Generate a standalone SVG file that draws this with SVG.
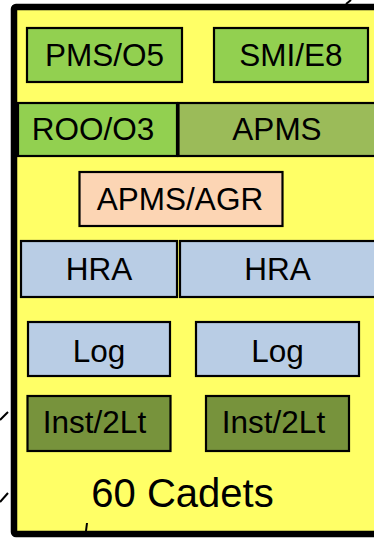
<svg xmlns="http://www.w3.org/2000/svg" width="374" height="538" viewBox="0 0 374 538">
<style>
.n{stroke:#000;stroke-width:2.2}
.t{font-family:"Liberation Sans",Arial,sans-serif;fill:#000;text-anchor:middle}
.s{font-size:31.5px}
.c{stroke:#000;stroke-width:2;fill:none}
</style>
<rect width="374" height="538" fill="#fff"/>
<g id="frame">
<rect x="14" y="7" width="372" height="527" rx="2" fill="#FFFF66" stroke="#000" stroke-width="6.5"/>
</g>
<g id="connectors">
<path class="c" d="M346 4 L351 0"/>
<path class="c" d="M0 420 L8 412"/>
<path class="c" d="M0 502 L8 493"/>
<path class="c" d="M86 531 L87 523"/>
</g>
<g id="pms"><rect class="n" x="27" y="28" width="155" height="54" fill="#92D050"/><text class="t s" x="104.5" y="66">PMS/O5</text></g>
<g id="smi"><rect class="n" x="214" y="28" width="154" height="54" fill="#92D050"/><text class="t s" x="291" y="66">SMI/E8</text></g>
<g id="roo"><rect class="n" x="18" y="103" width="159" height="53" fill="#92D050"/><text class="t s" x="93" y="140">ROO/O3</text></g>
<g id="apms"><rect class="n" x="178.5" y="103" width="200" height="53" fill="#9BBB59"/><text class="t s" x="277" y="140">APMS</text></g>
<g id="agr"><rect class="n" x="79.5" y="172" width="203" height="54" fill="#FCD5B4"/><text class="t s" x="180" y="210">APMS/AGR</text></g>
<g id="hra1"><rect class="n" x="21" y="241" width="156" height="56" fill="#B9CDE5"/><text class="t s" x="99" y="280">HRA</text></g>
<g id="hra2"><rect class="n" x="180" y="241" width="200" height="56" fill="#B9CDE5"/><text class="t s" x="277.5" y="280">HRA</text></g>
<g id="log1"><rect class="n" x="28" y="322" width="142" height="54" fill="#B9CDE5"/><text class="t s" x="99" y="362">Log</text></g>
<g id="log2"><rect class="n" x="196" y="322" width="163" height="54" fill="#B9CDE5"/><text class="t s" x="277.5" y="362">Log</text></g>
<g id="inst1"><rect class="n" x="27.5" y="396" width="143" height="55" fill="#77933C"/><text class="t s" x="94.5" y="433">Inst/2Lt</text></g>
<g id="inst2"><rect class="n" x="206" y="396" width="143" height="55" fill="#77933C"/><text class="t s" x="273.5" y="433">Inst/2Lt</text></g>
<g id="cadets"><text class="t" x="182.5" y="507" font-size="40">60 Cadets</text></g>
</svg>
